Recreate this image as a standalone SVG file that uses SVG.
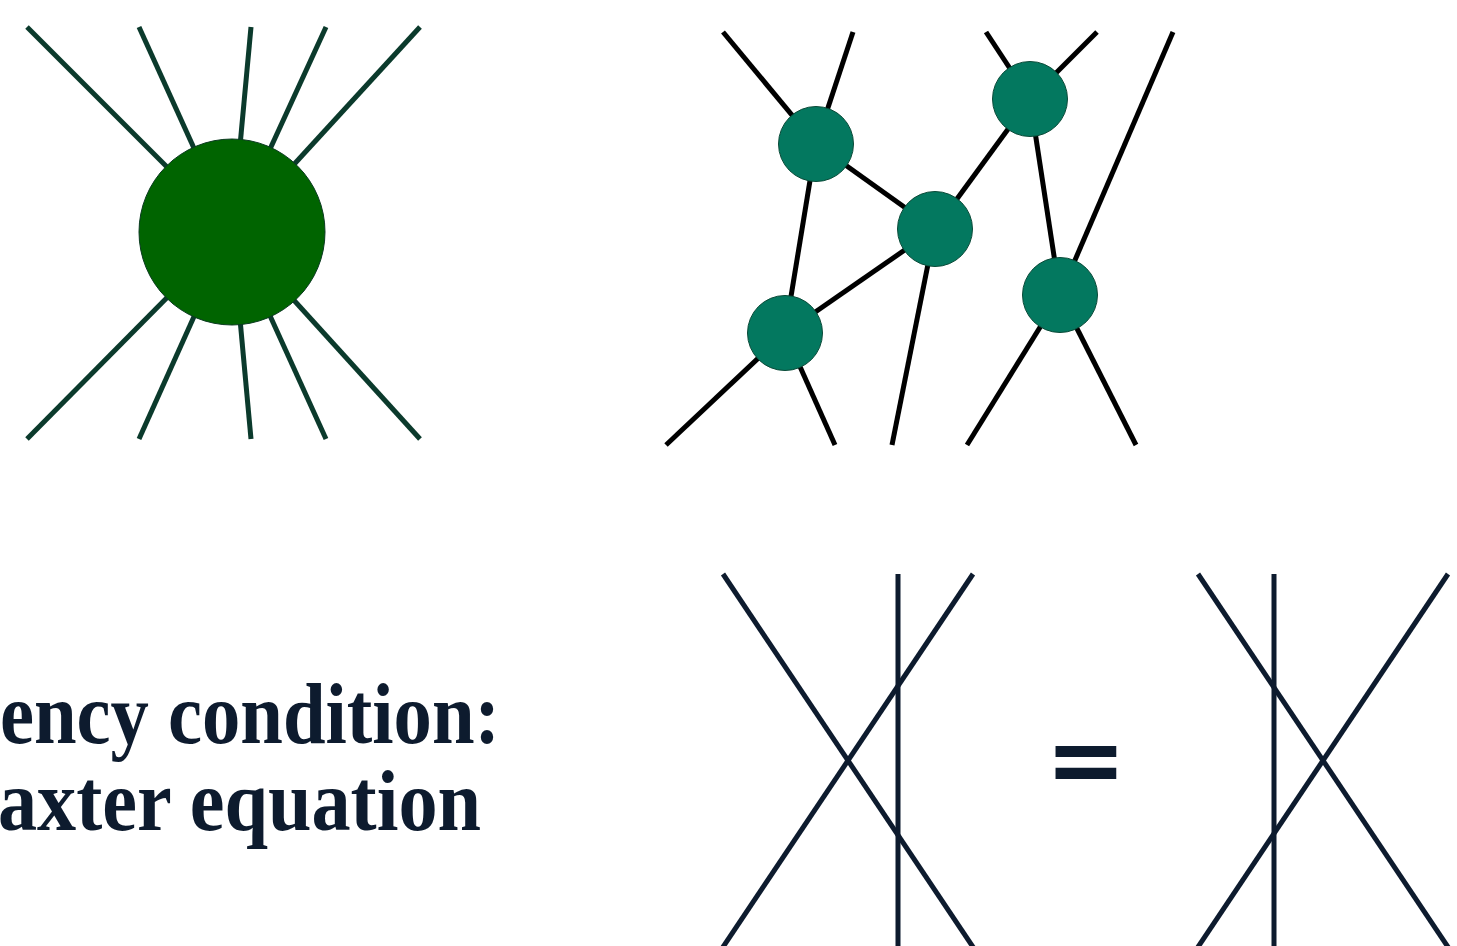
<svg xmlns="http://www.w3.org/2000/svg" width="1457" height="946" viewBox="0 0 1457 946">
<style>
.ray{stroke:#0b3a2c;stroke-width:5;fill:none}
.edge{stroke:#000;stroke-width:5;fill:none}
.node{fill:#03785f;stroke:#0a4a38;stroke-width:1}
.big{fill:#006400;stroke:#0a3a20;stroke-width:1}
.yb{stroke:#0d1b2e;stroke-width:5;fill:none}
.lbl{font-family:"Liberation Serif",serif;font-weight:bold;font-size:87px;fill:#0d1b2e}
.eq{font-family:"DejaVu Sans",sans-serif;font-weight:bold;font-size:97px;fill:#0d1b2e}
</style>
<rect width="1457" height="946" fill="#fff"/>
<g id="starburst">
<g id="rays">
<line class="ray" x1="27" y1="27" x2="232" y2="232"/>
<line class="ray" x1="139" y1="27" x2="232" y2="232"/>
<line class="ray" x1="251" y1="27" x2="232" y2="232"/>
<line class="ray" x1="326" y1="27" x2="232" y2="232"/>
<line class="ray" x1="420" y1="27" x2="232" y2="232"/>
<line class="ray" x1="27" y1="439" x2="232" y2="232"/>
<line class="ray" x1="139" y1="439" x2="232" y2="232"/>
<line class="ray" x1="251" y1="439" x2="232" y2="232"/>
<line class="ray" x1="326" y1="439" x2="232" y2="232"/>
<line class="ray" x1="420" y1="439" x2="232" y2="232"/>
</g>
<circle id="hub" class="big" cx="232" cy="232" r="93"/>
</g>
<g id="connectors">
<line class="edge" x1="723" y1="32" x2="816" y2="144"/>
<line class="edge" x1="853" y1="32" x2="816" y2="144"/>
<line class="edge" x1="816" y1="144" x2="785" y2="333"/>
<line class="edge" x1="816" y1="144" x2="935" y2="229"/>
<line class="edge" x1="785" y1="333" x2="935" y2="229"/>
<line class="edge" x1="935" y1="229" x2="1030" y2="99"/>
<line class="edge" x1="986" y1="32" x2="1030" y2="99"/>
<line class="edge" x1="1097" y1="32" x2="1030" y2="99"/>
<line class="edge" x1="1030" y1="99" x2="1060" y2="295"/>
<line class="edge" x1="1173" y1="32" x2="1060" y2="295"/>
<line class="edge" x1="785" y1="333" x2="666" y2="445"/>
<line class="edge" x1="785" y1="333" x2="835" y2="445"/>
<line class="edge" x1="935" y1="229" x2="892" y2="445"/>
<line class="edge" x1="1060" y1="295" x2="967" y2="445"/>
<line class="edge" x1="1060" y1="295" x2="1136" y2="445"/>
</g>
<g id="node-a"><circle class="node" cx="816" cy="144" r="37.5"/></g>
<g id="node-b"><circle class="node" cx="935" cy="229" r="37.5"/></g>
<g id="node-c"><circle class="node" cx="1030" cy="99" r="37.5"/></g>
<g id="node-d"><circle class="node" cx="785" cy="333" r="37.5"/></g>
<g id="node-e"><circle class="node" cx="1060" cy="295" r="37.5"/></g>
<g id="yb-left">
<line class="yb" x1="723" y1="574" x2="975" y2="950"/>
<line class="yb" x1="973" y1="574" x2="721" y2="950"/>
<line class="yb" x1="898" y1="574" x2="898" y2="950"/>
</g>
<g id="yb-right">
<line class="yb" x1="1198" y1="574" x2="1450" y2="950"/>
<line class="yb" x1="1448" y1="574" x2="1196" y2="950"/>
<line class="yb" x1="1274" y1="574" x2="1274" y2="950"/>
</g>
<g id="equals"><text class="eq" x="1086" y="793" text-anchor="middle">=</text></g>
<g id="label">
<text class="lbl"><tspan x="0" y="743" textLength="500" lengthAdjust="spacingAndGlyphs">ency condition:</tspan><tspan x="-2" y="830" textLength="483" lengthAdjust="spacingAndGlyphs">axter equation</tspan></text>
</g>
</svg>
